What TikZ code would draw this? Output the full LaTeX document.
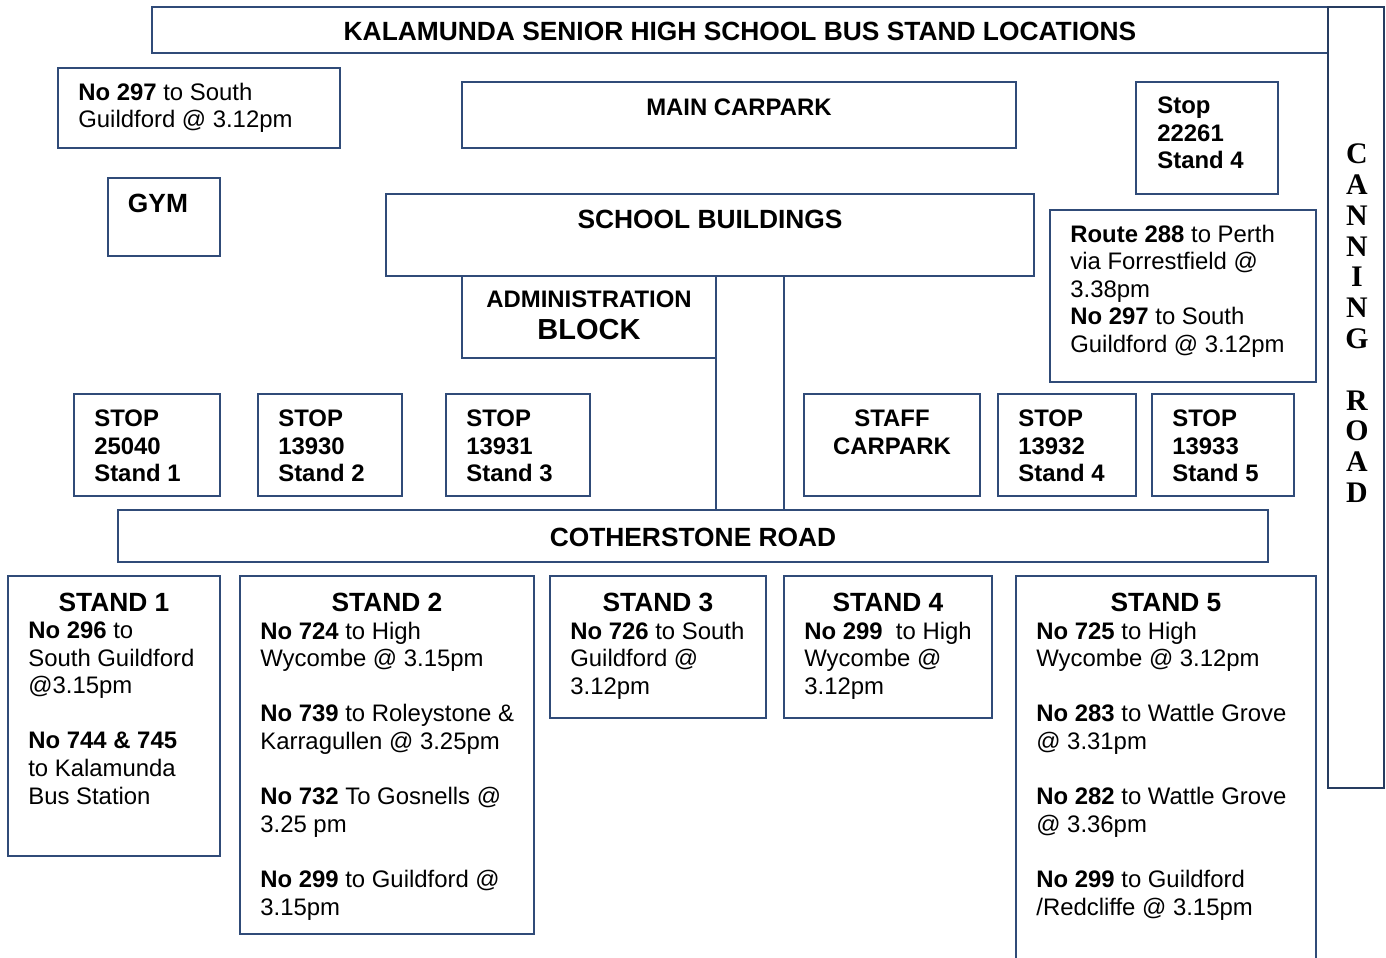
\documentclass[tikz,border=0pt]{standalone}
\usepackage{fontspec}
\setmainfont{Liberation Sans}
\newfontfamily\roadfont{Liberation Serif}
\newcommand{\normsize}{\fontsize{13.6}{15.7}\selectfont}
\newcommand{\bigsize}{\fontsize{15}{17}\selectfont}
\definecolor{edge}{RGB}{48,75,120}
\tikzstyle{plot}=[draw=edge,line width=0.6pt]
\tikzstyle{txt}=[inner sep=0pt,anchor=north west,align=left,font=\normsize]
\tikzstyle{ctxt}=[inner sep=0pt,align=center,font=\normsize\bfseries]
\tikzstyle{head}=[inner sep=0pt,font=\bigsize\bfseries]

\begin{document}
\begin{tikzpicture}[x=0.02cm,y=-0.02cm]
\useasboundingbox (0,0) rectangle (1386,957);
\clip (0,0) rectangle (1386,957);
\draw[plot] (152,7) rectangle (1328,53);
\draw[plot,line width=0.9pt,draw=edge!80!black] (1328,7) rectangle (1384,788);
\draw[plot] (58,68) rectangle (340,148);
\draw[plot] (462,82) rectangle (1016,148);
\draw[plot] (1136,82) rectangle (1278,194);
\draw[plot] (108,178) rectangle (220,256);
\draw[plot] (386,194) rectangle (1034,276);
\draw[plot] (1050,210) rectangle (1316,382);
\draw[plot] (462,276) rectangle (716,358);
\draw[plot] (716,276) rectangle (784,510);
\draw[plot] (74,394) rectangle (220,496);
\draw[plot] (258,394) rectangle (402,496);
\draw[plot] (446,394) rectangle (590,496);
\draw[plot] (804,394) rectangle (980,496);
\draw[plot] (998,394) rectangle (1136,496);
\draw[plot] (1152,394) rectangle (1294,496);
\draw[plot] (118,510) rectangle (1268,562);
\draw[plot] (8,576) rectangle (220,856);
\draw[plot] (240,576) rectangle (534,934);
\draw[plot] (550,576) rectangle (766,718);
\draw[plot] (784,576) rectangle (992,718);
\draw[plot] (1016,576) rectangle (1316,990);

\node[head] at (740,31) (title) {KALAMUNDA SENIOR HIGH SCHOOL BUS STAND LOCATIONS};
\node[txt] at (78,82.5) (gym297) {\textbf{No 297} to South\\Guildford @ 3.12pm};
\node[ctxt] at (739,107) (carpark) {MAIN CARPARK};
\node[txt,font=\normsize\bfseries] at (1157,96.5) (stop22261) {Stop\\22261\\Stand 4};
\node[head] at (158,203) (gym) {GYM};
\node[head] at (710,219) (buildings) {SCHOOL BUILDINGS};
\node[txt] at (1070,224.5) (route288) {\textbf{Route 288} to Perth\\via Forrestfield @\\3.38pm\\\textbf{No 297} to South\\Guildford @ 3.12pm};
\node[ctxt] at (589,299) (admin) {ADMINISTRATION};
\node[head,font=\fontsize{16.5}{18}\selectfont\bfseries] at (589,330) (block) {BLOCK};

\node[txt,font=\normsize\bfseries] at (94,409.5) (stop25040) {STOP\\25040\\Stand 1};
\node[txt,font=\normsize\bfseries] at (278,409.5) (stop13930) {STOP\\13930\\Stand 2};
\node[txt,font=\normsize\bfseries] at (466,409.5) (stop13931) {STOP\\13931\\Stand 3};
\node[ctxt,anchor=north] at (892,409.5) (staff) {STAFF\\CARPARK};
\node[txt,font=\normsize\bfseries] at (1018,409.5) (stop13932) {STOP\\13932\\Stand 4};
\node[txt,font=\normsize\bfseries] at (1172,409.5) (stop13933) {STOP\\13933\\Stand 5};
\node[head] at (693,537) (cotherstone) {COTHERSTONE ROAD};

\node[head,anchor=base] at (114,611) (stand1) {STAND 1};
\node[head,anchor=base] at (387,611) (stand2) {STAND 2};
\node[head,anchor=base] at (658,611) (stand3) {STAND 3};
\node[head,anchor=base] at (888,611) (stand4) {STAND 4};
\node[head,anchor=base] at (1166,611) (stand5) {STAND 5};
\node[txt] at (28,621.5) (routes1) {\textbf{No 296} to\\South Guildford\\@3.15pm\\[15.7pt]\textbf{No 744 \& 745}\\to Kalamunda\\Bus Station};
\node[txt] at (260,621.5) (routes2) {\textbf{No 724} to High\\Wycombe @ 3.15pm\\[15.7pt]\textbf{No 739} to Roleystone \&\\Karragullen @ 3.25pm\\[15.7pt]\textbf{No 732} To Gosnells @\\3.25 pm\\[15.7pt]\textbf{No 299} to Guildford @\\3.15pm};
\node[txt] at (570,621.5) (routes3) {\textbf{No 726} to South\\Guildford @\\3.12pm};
\node[txt] at (804,621.5) (routes4) {\textbf{No 299}\ \ to High\\Wycombe @\\3.12pm};
\node[txt] at (1036,621.5) (routes5) {\textbf{No 725} to High\\Wycombe @ 3.12pm\\[15.7pt]\textbf{No 283} to Wattle Grove\\@ 3.31pm\\[15.7pt]\textbf{No 282} to Wattle Grove\\@ 3.36pm\\[15.7pt]\textbf{No 299} to Guildford\\/Redcliffe @ 3.15pm};

\foreach \ch [count=\i] in {C,A,N,N,I,N,G,{},R,O,A,D}
  \node[inner sep=0pt,font=\roadfont\fontsize{17}{18}\selectfont\bfseries] at (1357,154+30.8*\i-30.8) (road\i) {\ch};
\end{tikzpicture}
\end{document}
